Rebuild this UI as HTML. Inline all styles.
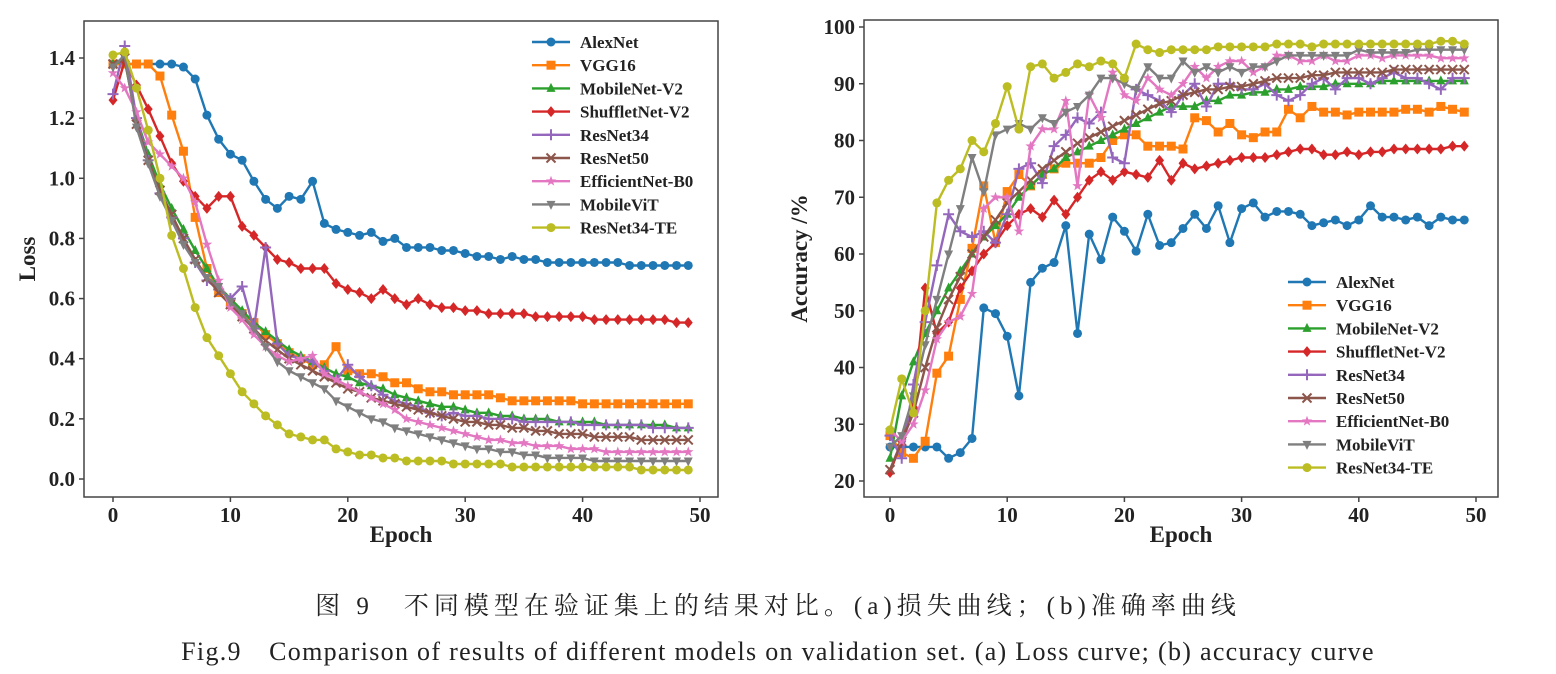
<!DOCTYPE html>
<html><head><meta charset="utf-8">
<style>
body{margin:0;background:#fff;width:1556px;height:674px;overflow:hidden;}
svg{position:absolute;left:0;top:0;}
text{font-family:"Liberation Serif","Noto Serif CJK SC",serif;}
.cap{position:absolute;left:0;width:1556px;text-align:center;font-family:"Liberation Serif","Noto Serif CJK SC",serif;color:#222;}
</style></head>
<body>
<svg id="chart" width="1556" height="580"></svg>
<div class="cap" style="top:586px;font-size:25px;letter-spacing:5px;">图 9　不同模型在验证集上的结果对比。(a)损失曲线；(b)准确率曲线</div>
<div class="cap" style="top:631px;font-size:26px;letter-spacing:1.3px;">Fig.9　Comparison of results of different models on validation set. (a) Loss curve; (b) accuracy curve</div>
<script>
const names=["AlexNet","VGG16","MobileNet-V2","ShuffletNet-V2","ResNet34","ResNet50","EfficientNet-B0","MobileViT","ResNet34-TE"];
const colors=["#1f77b4","#ff7f0e","#2ca02c","#d62728","#9467bd","#8c564b","#e377c2","#7f7f7f","#bcbd22"];
const markers=["o","s","^","D","+","x","*","v","o"];
const lossTicks=[0,0.2,0.4,0.6,0.8,1.0,1.2,1.4];
const accTicks=[20,30,40,50,60,70,80,90,100];
const epochTicks=[0,10,20,30,40,50];
const lossAlex=[1.38,1.38,1.38,1.38,1.38,1.38,1.37,1.33,1.21,1.13,1.08,1.06,0.99,0.93,0.90,0.94,0.93,0.99,0.85,0.83,0.82,0.81,0.82,0.79,0.80,0.77,0.77,0.77,0.76,0.76,0.75,0.74,0.74,0.73,0.74,0.73,0.73,0.72,0.72,0.72,0.72,0.72,0.72,0.72,0.71,0.71,0.71,0.71,0.71,0.71];
const lossVGG=[1.38,1.38,1.38,1.38,1.34,1.21,1.09,0.87,0.70,0.62,0.58,0.55,0.52,0.48,0.45,0.42,0.40,0.38,0.38,0.44,0.36,0.35,0.35,0.34,0.32,0.32,0.30,0.29,0.29,0.28,0.28,0.28,0.28,0.27,0.26,0.26,0.26,0.26,0.26,0.26,0.25,0.25,0.25,0.25,0.25,0.25,0.25,0.25,0.25,0.25];
const lossMob=[1.38,1.39,1.20,1.08,0.98,0.90,0.83,0.76,0.70,0.64,0.60,0.56,0.52,0.49,0.46,0.43,0.41,0.39,0.37,0.35,0.34,0.32,0.31,0.30,0.28,0.27,0.26,0.25,0.24,0.24,0.23,0.22,0.22,0.21,0.21,0.20,0.20,0.20,0.19,0.19,0.19,0.19,0.18,0.18,0.18,0.18,0.18,0.18,0.17,0.17];
const lossShuf=[1.26,1.39,1.31,1.23,1.14,1.05,0.99,0.94,0.90,0.94,0.94,0.84,0.81,0.77,0.73,0.72,0.70,0.70,0.70,0.65,0.63,0.62,0.60,0.63,0.60,0.58,0.60,0.58,0.57,0.57,0.56,0.56,0.55,0.55,0.55,0.55,0.54,0.54,0.54,0.54,0.54,0.53,0.53,0.53,0.53,0.53,0.53,0.53,0.52,0.52];
const lossR34=[1.28,1.44,1.20,1.06,0.95,0.87,0.80,0.72,0.66,0.63,0.60,0.64,0.50,0.77,0.45,0.41,0.40,0.39,0.36,0.33,0.38,0.34,0.31,0.28,0.26,0.25,0.24,0.22,0.21,0.22,0.21,0.21,0.20,0.20,0.20,0.19,0.19,0.19,0.19,0.19,0.18,0.18,0.18,0.18,0.18,0.18,0.17,0.17,0.17,0.17];
const lossR50=[1.38,1.40,1.18,1.06,0.96,0.88,0.80,0.73,0.67,0.62,0.58,0.54,0.50,0.46,0.43,0.40,0.38,0.36,0.34,0.32,0.30,0.29,0.27,0.26,0.25,0.24,0.23,0.22,0.21,0.20,0.19,0.19,0.18,0.18,0.17,0.17,0.16,0.16,0.15,0.15,0.15,0.14,0.14,0.14,0.14,0.13,0.13,0.13,0.13,0.13];
const lossEff=[1.35,1.30,1.22,1.12,1.08,1.04,1.00,0.92,0.78,0.66,0.57,0.53,0.48,0.44,0.41,0.39,0.40,0.41,0.35,0.33,0.31,0.29,0.27,0.25,0.23,0.20,0.19,0.18,0.17,0.16,0.15,0.14,0.13,0.13,0.12,0.12,0.11,0.11,0.11,0.10,0.10,0.10,0.09,0.09,0.09,0.09,0.09,0.09,0.09,0.09];
const lossViT=[1.37,1.41,1.17,1.05,0.94,0.86,0.78,0.72,0.67,0.64,0.59,0.55,0.50,0.44,0.39,0.36,0.34,0.32,0.30,0.26,0.24,0.22,0.20,0.19,0.17,0.16,0.15,0.14,0.13,0.12,0.11,0.10,0.10,0.09,0.09,0.08,0.08,0.07,0.07,0.07,0.07,0.06,0.06,0.06,0.06,0.06,0.06,0.06,0.06,0.06];
const lossTE=[1.41,1.42,1.30,1.16,1.00,0.81,0.70,0.57,0.47,0.41,0.35,0.29,0.25,0.21,0.18,0.15,0.14,0.13,0.13,0.10,0.09,0.08,0.08,0.07,0.07,0.06,0.06,0.06,0.06,0.05,0.05,0.05,0.05,0.05,0.04,0.04,0.04,0.04,0.04,0.04,0.04,0.04,0.04,0.04,0.04,0.03,0.03,0.03,0.03,0.03];
const accAlex=[26,26,26,26,26,24,25,27.5,50.5,49.5,45.5,35,55,57.5,58.5,65,46,63.5,59,66.5,64,60.5,67,61.5,62,64.5,67,64.5,68.5,62,68,69,66.5,67.5,67.5,67,65,65.5,66,65,66,68.5,66.5,66.5,66,66.5,65,66.5,66,66];
const accVGG=[28,25,24,27,39,42,52,61,72,62,71,74,72,74,75,76,76,76,77,80,81,81,79,79,79,78.5,84,83.5,81.5,83,81,80.5,81.5,81.5,85.5,84,86,85,85,84.5,85,85,85,85,85.5,85.5,85,86,85.5,85];
const accMob=[24,35,41,46,50,54,57,60,63,65,67,70,72,74,75,77,78,79,80,81,82,83,84,85,86,86,86,87,87,88,88,88.5,88.5,89,89,89.5,89.5,89.5,90,90,90,90,90.5,90.5,90.5,90.5,90.5,90.5,90.5,90.5];
const accShuf=[21.5,27,33,54,46,48,54,57,60,62,65,67,68,66.5,69.5,67,70,73,74.5,73,74.5,74,73.5,76.5,73,76,75,75.5,76,76.5,77,77,77,77.5,78,78.5,78.5,77.5,77.5,78,77.5,78,78,78.5,78.5,78.5,78.5,78.5,79,79];
const accR34=[28,24,37,48,58,67,64,63,64,62,67,75,76,72.5,79,81,84,83,85,77,76,89,88,87,85,88,90,86,90,90,89,89,90,88,87,88,90,91,89,91,91,90,91,92,91,91,90,89,91,91];
const accR50=[22,27,32,40,47,52,56,60,63,66,69,71,73,75,76.5,78,79.5,80.5,81.5,82.5,83.5,84.5,85.5,86.5,87,88,88.5,89,89,89.5,89.5,90,90.5,91,91,91,91.5,91.5,92,92,92,92,92,92.5,92.5,92.5,92.5,92.5,92.5,92.5];
const accEff=[29,27,30,36,45,48,49,53,68,70,70,64,79,82,82,87,72,88,84,92,88,87,91,89,88,90,93,91,93,94,94,92,93,95,95,94,94,95,94,94,95,95,94.5,95,95,95,95,94.5,94.5,94.5];
const accViT=[26,28,35,44,52,60,68,77,71,81,82,83,82,84,83,85,86,88,91,91,90,89,93,91,91,94,92,93,92,93,92,93,93,94,95,95,95,95,95,95,96,95.5,95.5,95.5,95.5,96,96,96,96,96];
const accTE=[29,38,32,50,69,73,75,80,78,83,89.5,82,93,93.5,91,92,93.5,93,94,93.5,91,97,96,95.5,96,96,96,96,96.5,96.5,96.5,96.5,96.5,97,97,97,96.5,97,97,97,97,97,97,97,97,97,97,97.5,97.5,97];
const lossSeries=[lossAlex,lossVGG,lossMob,lossShuf,lossR34,lossR50,lossEff,lossViT,lossTE];
const accSeries=[accAlex,accVGG,accMob,accShuf,accR34,accR50,accEff,accViT,accTE];

const NS="http://www.w3.org/2000/svg";
const svg=document.getElementById('chart');
function mk(tag,attrs,parent){const e=document.createElementNS(NS,tag);for(const k in attrs)e.setAttribute(k,attrs[k]);(parent||svg).appendChild(e);return e;}
function marker(g,type,x,y,c){
  const r=4.5;let e;
  if(type==="o")e=mk('circle',{cx:x,cy:y,r:r,fill:c},g);
  else if(type==="s")e=mk('rect',{x:x-r,y:y-r,width:2*r,height:2*r,fill:c},g);
  else if(type==="^")e=mk('polygon',{points:`${x},${y-r-1} ${x-r},${y+r-1} ${x+r},${y+r-1}`,fill:c},g);
  else if(type==="v")e=mk('polygon',{points:`${x},${y+r+1} ${x-r},${y-r+1} ${x+r},${y-r+1}`,fill:c},g);
  else if(type==="D")e=mk('polygon',{points:`${x},${y-r-1} ${x+r},${y} ${x},${y+r+1} ${x-r},${y}`,fill:c},g);
  else if(type==="+")e=mk('path',{d:`M${x-r-1} ${y}H${x+r+1}M${x} ${y-r-1}V${y+r+1}`,stroke:c,'stroke-width':2},g);
  else if(type==="x")e=mk('path',{d:`M${x-r} ${y-r}L${x+r} ${y+r}M${x-r} ${y+r}L${x+r} ${y-r}`,stroke:c,'stroke-width':2},g);
  else if(type==="*"){let p=[];for(let i=0;i<10;i++){const a=-Math.PI/2+i*Math.PI/5,rr=i%2?r*0.5:r+1;p.push((x+rr*Math.cos(a)).toFixed(1)+','+(y+rr*Math.sin(a)).toFixed(1));}e=mk('polygon',{points:p.join(' '),fill:c},g);}
  
  
}
function panel(cfg){
  const {L,T,R,B,x0px,x50px,ylo,yhi,ylopx,yhipx,series,ticks,fmt,ylabel,legX,legY,id,ylx}=cfg;
  const xs=v=>x0px+(x50px-x0px)*v/50;
  const ys=v=>ylopx+(yhipx-ylopx)*(v-ylo)/(yhi-ylo);
  const g=mk('g',{});
  
  
  const fr=mk('rect',{x:L,y:T,width:R-L,height:B-T,fill:'none',stroke:'#444','stroke-width':1.5},g);
  
  
  epochTicks.forEach(t=>{const x=xs(t);mk('line',{x1:x,x2:x,y1:B,y2:B+5,stroke:'#444','stroke-width':1.5},g);
    const tx=mk('text',{x:x,y:B+25,'text-anchor':'middle','font-size':21,'font-weight':'bold',fill:'#222'},g);tx.textContent=t;
    });
  ticks.forEach(t=>{const y=ys(t);mk('line',{x1:L-5,x2:L,y1:y,y2:y,stroke:'#444','stroke-width':1.5},g);
    const tx=mk('text',{x:L-9,y:y+7,'text-anchor':'end','font-size':21,'font-weight':'bold',fill:'#222'},g);tx.textContent=fmt(t);
    });
  const xl=mk('text',{x:(L+R)/2,y:B+45,'text-anchor':'middle','font-size':23,'font-weight':'bold',fill:'#222'},g);xl.textContent='Epoch';
  
  const yl=mk('text',{x:0,y:0,'text-anchor':'middle','font-size':23,'font-weight':'bold',fill:'#222',transform:`translate(${ylx},${(T+B)/2}) rotate(-90)`},g);yl.textContent=ylabel;
  
  series.forEach((s,i)=>{
    const sg=mk('g',{},g);
    
    
    const pts=s.map((v,j)=>xs(j).toFixed(1)+','+ys(v).toFixed(1)).join(' ');
    mk('polyline',{points:pts,fill:'none',stroke:colors[i],'stroke-width':2.4,'stroke-linejoin':'round'},sg);
    s.forEach((v,j)=>marker(sg,markers[i],xs(j),ys(v),colors[i]));
  });
  names.forEach((n,i)=>{
    const y=legY+i*23.2;
    const lg=mk('g',{},g);
    
    
    mk('line',{x1:legX,x2:legX+38,y1:y,y2:y,stroke:colors[i],'stroke-width':2.4},lg);
    marker(lg,markers[i],legX+19,y,colors[i]);
    const t=mk('text',{x:legX+48,y:y+6,'font-size':17,'font-weight':'bold',fill:'#222'},lg);t.textContent=n;
  });
}
panel({id:'loss',L:84,T:21,R:718,B:497,x0px:113,x50px:700,ylo:0,yhi:1.4,ylopx:479,yhipx:58,series:lossSeries,ticks:lossTicks,fmt:t=>t.toFixed(1),ylabel:'Loss',legX:532,legY:42,ylx:35});
panel({id:'accuracy',L:864,T:20,R:1498,B:497,x0px:890,x50px:1476,ylo:20,yhi:100,ylopx:481,yhipx:27,series:accSeries,ticks:accTicks,fmt:t=>String(t),ylabel:'Accuracy /%',legX:1288,legY:282,ylx:807});
</script>
</body></html>
